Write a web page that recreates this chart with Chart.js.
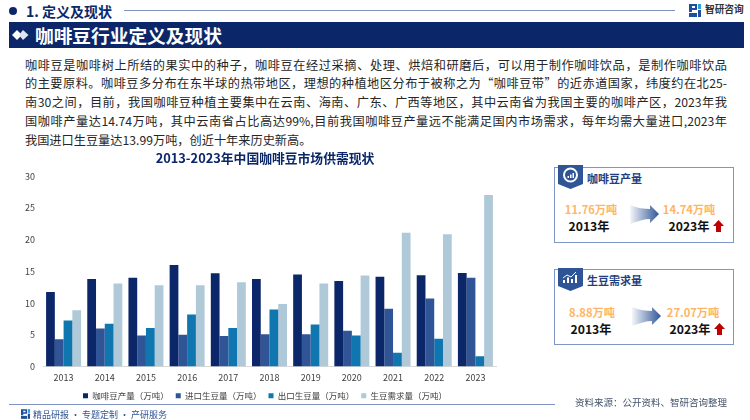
<!DOCTYPE html>
<html>
<head>
<meta charset="utf-8">
<style>
  html, body { margin: 0; padding: 0; background: #fff; overflow: hidden; }
  body { width: 750px; height: 420px; position: relative; font-family: "Noto Sans CJK SC", sans-serif; }
  .abs { position: absolute; }
  .t { position: absolute; white-space: nowrap; line-height: 1; transform: translateY(-50%); }
  .c { position: absolute; white-space: nowrap; line-height: 1; transform: translate(-50%, -50%); font-weight: 700; }
  .line { position: absolute; left: 25px; width: 702px; font-size: 12.2px; line-height: 1; color: #262626; transform: translateY(-50%); text-align: justify; text-align-last: justify; white-space: nowrap; }
  .last { text-align-last: left; }
  .panel { position: absolute; left: 554px; width: 178px; height: 74px; border: 1px solid #7f96c6; box-sizing: content-box; }
  .val { color: #ffb566; font-size: 11.2px; }
  .yr { color: #111; font-size: 12.2px; }
  .ptitle { font-size: 11px; font-weight: 700; color: #1f3f7f; }
</style>
</head>
<body>
<!-- header -->
<div class="abs" style="left:9px;top:7px;width:8px;height:8px;border-radius:50%;background:#0b2769"></div>
<div class="t" style="left:26px;top:11px;font-size:14px;font-weight:700;color:#0b2769">1. 定义及现状</div>
<div class="abs" style="left:124px;top:10px;width:551px;height:1px;background:#7f93c0"></div>
<svg class="abs" style="left:689px;top:4px" width="12" height="13" viewBox="0 0 12 13">
  <path d="M0 0h8v6H3v2H0zM3 2v2h3V2z" fill="#1f4e9c" fill-rule="evenodd"/>
  <path d="M0 9h8v4H0z" fill="#1f4e9c"/><path d="M9 0h3v5H9z" fill="#2aa0dc"/><path d="M9 6h3v7H9z" fill="#1f4e9c"/>
</svg>
<div class="t" style="left:705px;top:10px;font-size:9.700px;font-weight:700;color:#333">智研咨询</div>
<div class="abs" style="left:9px;top:22px;width:735px;height:26px;background:#0b2769"></div>
<svg class="abs" style="left:12px;top:29px" width="17" height="12" viewBox="0 0 17 12">
  <path d="M5 1l5 5-5 5-5-5z" fill="#fff"/><path d="M11 1l5.500 5-5.500 5-4-5z" fill="#dfe5f0"/>
</svg>
<div class="t" style="left:35px;top:35px;font-size:18.700px;font-weight:700;color:#fff">咖啡豆行业定义及现状</div>

<!-- body text -->
<div class="line" style="top:65px">咖啡豆是咖啡树上所结的果实中的种子，咖啡豆在经过采摘、处理、烘焙和研磨后，可以用于制作咖啡饮品，是制作咖啡饮品</div>
<div class="line" style="top:83px">的主要原料。咖啡豆多分布在东半球的热带地区，理想的种植地区分布于被称之为“咖啡豆带”的近赤道国家，纬度约在北25-</div>
<div class="line" style="top:102px">南30之间，目前，我国咖啡豆种植主要集中在云南、海南、广东、广西等地区，其中云南省为我国主要的咖啡产区，2023年我</div>
<div class="line" style="top:121px">国咖啡产量达14.74万吨，其中云南省占比高达99%,目前我国咖啡豆产量远不能满足国内市场需求，每年均需大量进口,2023年</div>
<div class="line last" style="top:140px">我国进口生豆量达13.99万吨，创近十年来历史新高。</div>

<!-- chart -->
<canvas id="myChart" class="abs" style="left:0;top:150px" width="530" height="260"></canvas>

<!-- panel 1 -->
<div class="panel" style="top:167px"></div>
<svg class="abs" style="left:558px;top:165px" width="25" height="25" viewBox="0 0 25 25">
  <path d="M0 0h25v19l-12.500 5L0 19z" fill="#2f5597"/>
  <circle cx="12.500" cy="10" r="6.500" fill="none" stroke="#fff" stroke-width="2"/>
  <path d="M9.500 13v-2h1.500v2zM12 13V9.500h1.500V13zM14.500 13V8H16v5z" fill="#fff"/>
</svg>
<div class="t ptitle" style="left:587px;top:178px">咖啡豆产量</div>
<div class="c val" style="left:591px;top:210px">11.76万吨</div>
<div class="c yr" style="left:589px;top:226px">2013年</div>
<svg class="abs" style="left:630px;top:204px" width="29" height="21" viewBox="0 0 29 21">
  <defs><linearGradient id="g1"><stop offset="0" stop-color="#2f5597" stop-opacity="0.05"/><stop offset="1" stop-color="#2f5597"/></linearGradient></defs>
  <path d="M0 1c8 3 14 4 20 4V1l9 9-9 9v-4c-6 0-12 2-20 5z" fill="url(#g1)"/>
</svg>
<div class="c val" style="left:689px;top:210px">14.74万吨</div>
<div class="c yr" style="left:689px;top:226px">2023年</div>
<svg class="abs" style="left:713px;top:220px" width="11" height="12" viewBox="0 0 11 12"><path d="M5.500 0L11 6H8v6H3V6H0z" fill="#c00000"/></svg>

<!-- panel 2 -->
<div class="panel" style="top:269px"></div>
<svg class="abs" style="left:558px;top:268px" width="25" height="24" viewBox="0 0 25 24">
  <path d="M0 0h25v18l-12.500 5L0 18z" fill="#2f5597"/>
  <path d="M5 15v-3h2v3zM9 15V9.500h2V15zM13 15v-4h2v4zM17 15V7h2v8z" fill="#fff"/>
  <path d="M5 10l4-3 4 2 5-5" fill="none" stroke="#fff" stroke-width="1"/>
</svg>
<div class="t ptitle" style="left:587px;top:280px">生豆需求量</div>
<div class="c val" style="left:592px;top:313px">8.88万吨</div>
<div class="c yr" style="left:591px;top:329px">2013年</div>
<svg class="abs" style="left:632px;top:306px" width="29" height="21" viewBox="0 0 29 21">
  <defs><linearGradient id="g2"><stop offset="0" stop-color="#2f5597" stop-opacity="0.05"/><stop offset="1" stop-color="#2f5597"/></linearGradient></defs>
  <path d="M0 1c8 3 14 4 20 4V1l9 9-9 9v-4c-6 0-12 2-20 5z" fill="url(#g2)"/>
</svg>
<div class="c val" style="left:693px;top:313px">27.07万吨</div>
<div class="c yr" style="left:690px;top:329px">2023年</div>
<svg class="abs" style="left:714px;top:323px" width="11" height="12" viewBox="0 0 11 12"><path d="M5.500 0L11 6H8v6H3V6H0z" fill="#c00000"/></svg>

<!-- footer -->
<div class="abs" style="left:9px;top:404px;width:546px;height:1px;background:#7f93c0"></div>
<div class="t" style="left:575px;top:403px;font-size:9.500px;color:#44546a">资料来源：公开资料、智研咨询整理</div>
<svg class="abs" style="left:21px;top:409px" width="9" height="10" viewBox="0 0 12 13">
  <path d="M0 0h8v6H3v2H0zM3 2v2h3V2z" fill="#1f4e9c" fill-rule="evenodd"/>
  <path d="M0 9h8v4H0z" fill="#1f4e9c"/><path d="M9 0h3v5H9z" fill="#2aa0dc"/><path d="M9 6h3v7H9z" fill="#1f4e9c"/>
</svg>
<div class="t" style="left:33px;top:414px;font-size:9px;color:#2f5597">精品研报 · 专题定制 · 产研服务</div>

<script src="https://cdn.jsdelivr.net/npm/chart.js@4"></script>
<script>
const years = ["2013", "2014", "2015", "2016", "2017", "2018", "2019", "2020", "2021", "2022", "2023"];
const production = [11.76, 13.8, 14.0, 16.0, 14.7, 13.8, 14.5, 13.5, 14.17, 14.4, 14.74];
const imports = [4.3, 6.0, 4.9, 5.0, 4.8, 5.1, 5.1, 5.66, 9.13, 10.74, 13.99];
const exports_ = [7.25, 6.75, 6.07, 8.2, 6.07, 9.0, 6.64, 4.88, 2.18, 4.36, 1.6];
const demand = [8.88, 13.1, 12.8, 12.8, 13.3, 9.86, 13.08, 14.37, 21.1, 20.86, 27.07];

const font = "'Noto Sans CJK SC', sans-serif";

new Chart("myChart", {
    type: "bar",
    data: {
        labels: years,
        datasets: [
            { label: "咖啡豆产量（万吨）", data: production, backgroundColor: "#0b2769" },
            { label: "进口生豆量（万吨）", data: imports, backgroundColor: "#2f5597" },
            { label: "出口生豆量（万吨）", data: exports_, backgroundColor: "#1076b0" },
            { label: "生豆需求量（万吨）", data: demand, backgroundColor: "#b0c9d9" }
        ]
    },
    options: {
        responsive: false,
        animation: false,
        datasets: { bar: { categoryPercentage: 0.85, barPercentage: 1 } },
        scales: {
            x: {
                grid: { display: false, drawTicks: false },
                border: { color: "#d9d9d9" },
                ticks: { color: "#404040", font: { family: font, size: 9 }, padding: 6, maxRotation: 0 },
                afterFit: (s) => { s.height = 18; }
            },
            y: {
                min: 0,
                max: 30,
                grid: { display: false, drawTicks: false },
                border: { display: false },
                ticks: { stepSize: 5, color: "#404040", font: { family: font, size: 9 }, padding: 8 },
                afterFit: (s) => { s.width = 43; }
            },
            // empty right axis, keeps the title and legend centred on the full canvas
            spacer: {
                position: "right",
                grid: { display: false, drawTicks: false },
                border: { display: false },
                ticks: { display: false },
                afterFit: (s) => { s.width = 34; }
            }
        },
        plugins: {
            title: {
                display: true,
                text: "2013-2023年中国咖啡豆市场供需现状",
                color: "#0b2769",
                font: { family: font, size: 12.8, weight: "bold" },
                padding: { top: 0, bottom: 11 }
            },
            legend: {
                position: "bottom",
                labels: {
                    boxWidth: 5,
                    boxHeight: 5,
                    padding: 7,
                    color: "#404040",
                    font: { family: font, size: 8.5 }
                }
            },
            tooltip: { enabled: false }
        }
    }
});
</script>
</body>
</html>
